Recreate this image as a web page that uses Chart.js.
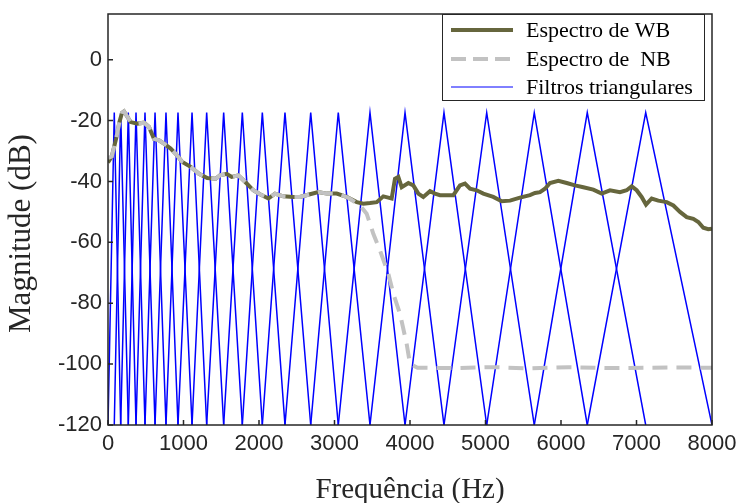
<!DOCTYPE html>
<html lang="pt">
<head>
    <meta charset="UTF-8">
    <title>Espectro e filtros triangulares</title>
    <style>
        body{
            margin: 0;
            background-color: #ffffff;
        }
    </style>
</head>
<body>
    <canvas id="grafico" width="741" height="503"></canvas>

    <script src="https://cdn.jsdelivr.net/npm/chart.js"></script>

    <script>
        // espectro de banda larga (WB)
        const wbFreq = [0, 50, 110, 150, 185, 212, 250, 300, 390, 477, 543, 609, 675, 742, 830, 897, 984, 1095, 1205, 1315,
            1426, 1483, 1572, 1638, 1726, 1815, 1925, 2013, 2124, 2212, 2322, 2455, 2543, 2675, 2786, 2896, 3029, 3161, 3294, 3382,
            3470, 3559, 3647, 3713, 3757, 3801, 3845, 3890, 3978, 4044, 4110, 4176, 4265, 4331, 4397, 4486, 4574, 4662, 4728, 4795,
            4883, 4971, 5103, 5214, 5325, 5457, 5589, 5656, 5722, 5788, 5854, 5965, 6075, 6185, 6296, 6428, 6539, 6649, 6781, 6870,
            6936, 7002, 7068, 7126, 7201, 7288, 7400, 7488, 7576, 7665, 7752, 7819, 7885, 7950, 8000]
        const wbDb = [-33.8, -31.8, -25.7, -20.6, -17.5, -17, -18.5, -20.5, -21, -20.7, -22.1, -26, -26.5, -27.6, -29.2, -30.9, -33.6, -35.2, -37.5, -38.9,
            -39.1, -38, -37.5, -38.5, -38, -40.1, -42.9, -44.2, -45.6, -44, -44.9, -45.1, -45.1, -44.2, -43.5, -44, -44, -45.1, -46.8, -47.3,
            -47.1, -46.8, -44.9, -45.3, -45.6, -39.1, -38.5, -41.9, -40.5, -41.3, -44, -45.1, -43.2, -44, -44.5, -44.5, -44.5, -41.3, -40.7, -42.4,
            -42.9, -44, -45.1, -46.5, -46.3, -45.3, -44.5, -43.8, -43.5, -42.4, -40.5, -39.8, -40.5, -41.3, -41.9, -42.7, -44, -42.9, -43.5, -42.9,
            -41.6, -42.9, -45.1, -47.6, -45.6, -46.3, -46.8, -47.9, -50, -51.7, -52.3, -53.3, -55.2, -55.7, -55.5]

        // espectro de banda estreita (NB)
        const nbFreq = [0, 50, 110, 150, 185, 212, 250, 300, 390, 477, 543, 609, 675, 742, 830, 897, 984, 1095, 1205, 1315,
            1426, 1483, 1572, 1638, 1726, 1815, 1925, 2013, 2124, 2212, 2322, 2455, 2543, 2675, 2786, 2896, 3029, 3161, 3205, 3338,
            3426, 3514, 3603, 3713, 3779, 3868, 3956, 4000, 4100, 4600, 5100, 5600, 6100, 6600, 7100, 7600, 8000]
        const nbDb = [-32.3, -31.8, -25.7, -20.6, -17.5, -17, -18.5, -20.5, -21, -20.7, -22.1, -26, -26.5, -27.6, -29.2, -30.9, -33.6, -35.2, -37.5, -38.9,
            -39.1, -38, -37.5, -38.5, -38, -40.1, -42.9, -44.2, -45.6, -44, -44.9, -45.1, -45.1, -44.2, -43.5, -44, -44, -45.1, -45.7, -47.9,
            -50.6, -57.2, -62.7, -70.3, -76.9, -83.5, -93.4, -99.9, -101.2, -101.3, -101, -101.4, -101, -101.3, -101.2, -101.1, -101.2]

        // bordas dos filtros triangulares (Hz)
        const filterEdges = [0, 83, 168, 269, 371, 490, 623, 768, 927, 1113, 1307, 1532, 1779, 2044, 2344, 2685, 3050, 3470, 3934,
            4450, 5016, 5646, 6348, 7122, 8000]
        const filterTop = -17.4
        const filterBottom = -120

        const xTicks = [0, 1000, 2000, 3000, 4000, 5000, 6000, 7000, 8000]
        const yTicks = [-120, -100, -80, -60, -40, -20, 0]
        const legendLabels = ['Espectro de WB', 'Espectro de  NB', 'Filtros triangulares']
        const yTitle = 'Magnitude (dB)'

        const corWB = '#66663d'
        const corNB = '#c2c2c2'
        const corFiltro = '#0000ff'
        const corTexto = '#262626'

        const toPoints = (fs, ds) => fs.map((f, i) => ({x: f, y: ds[i]}))

        const filtros = []
        for (let k = 1; k < filterEdges.length - 1; k++) {
            filtros.push({
                label: 'filtro ' + k,
                data: [
                    {x: filterEdges[k - 1], y: filterBottom},
                    {x: filterEdges[k], y: filterTop},
                    {x: filterEdges[k + 1], y: filterBottom}
                ],
                borderColor: corFiltro,
                borderWidth: 1.5,
                pointRadius: 0,
                tension: 0,
                order: 3
            })
        }

        // moldura, marcas internas, titulo do eixo y e legenda
        const moldura = {
            id: 'moldura',
            afterDatasetsDraw(chart) {
                const {ctx, chartArea: a, scales: {x, y}} = chart
                ctx.save()
                ctx.strokeStyle = corTexto
                ctx.lineWidth = 1.5
                ctx.strokeRect(a.left, a.top, a.right - a.left, a.bottom - a.top)
                ctx.beginPath()
                xTicks.forEach(v => {
                    const px = x.getPixelForValue(v)
                    ctx.moveTo(px, a.bottom)
                    ctx.lineTo(px, a.bottom - 5)
                })
                yTicks.forEach(v => {
                    const py = y.getPixelForValue(v)
                    ctx.moveTo(a.left, py)
                    ctx.lineTo(a.left + 5, py)
                })
                ctx.stroke()

                // titulo do eixo y
                ctx.save()
                ctx.translate(22, (a.top + a.bottom) / 2 + 14)
                ctx.rotate(-Math.PI / 2)
                ctx.fillStyle = corTexto
                ctx.font = '31px "Liberation Serif"'
                ctx.textAlign = 'center'
                ctx.textBaseline = 'middle'
                ctx.fillText(yTitle, 0, 0)
                ctx.restore()

                // legenda
                const bx = 442, by = a.top, bw = 262, bh = 86
                ctx.fillStyle = '#ffffff'
                ctx.fillRect(bx, by, bw, bh)
                ctx.lineWidth = 1
                ctx.strokeRect(bx + 0.5, by + 0.5, bw, bh)
                const rows = [by + 16, by + 45, by + 73]
                const estilos = [
                    {color: corWB, width: 4, dash: []},
                    {color: corNB, width: 4, dash: [15, 7]},
                    {color: corFiltro, width: 1, dash: []}
                ]
                rows.forEach((ry, i) => {
                    ctx.beginPath()
                    ctx.strokeStyle = estilos[i].color
                    ctx.lineWidth = estilos[i].width
                    ctx.setLineDash(estilos[i].dash)
                    ctx.moveTo(bx + 9, ry)
                    ctx.lineTo(bx + 71, ry)
                    ctx.stroke()
                    ctx.setLineDash([])
                    ctx.fillStyle = '#000000'
                    ctx.font = '22px "Liberation Serif"'
                    ctx.textBaseline = 'middle'
                    ctx.textAlign = 'left'
                    ctx.fillText(legendLabels[i], bx + 84, ry + 1)
                })
                ctx.restore()
            }
        }

        const contexto = document.querySelector('#grafico')
        const grafico = new Chart(contexto, {
            type: 'line',
            data: {
                datasets: [
                    {
                        label: legendLabels[1],
                        data: toPoints(nbFreq, nbDb),
                        borderColor: corNB,
                        borderWidth: 4,
                        borderDash: [15, 9],
                        pointRadius: 0,
                        order: 1
                    },
                    {
                        label: legendLabels[0],
                        data: toPoints(wbFreq, wbDb),
                        borderColor: corWB,
                        borderWidth: 4,
                        pointRadius: 0,
                        order: 2
                    },
                    ...filtros
                ]
            },
            options: {
                responsive: false,
                animation: false,
                layout: {padding: {top: 14, right: 29, left: 0, bottom: 0}},
                plugins: {
                    legend: {display: false},
                    tooltip: {enabled: false}
                },
                scales: {
                    x: {
                        type: 'linear',
                        min: 0,
                        max: 8000,
                        afterFit: s => {
                            s.height = 78
                            s.paddingLeft = 0
                            s.paddingRight = 0
                        },
                        afterBuildTicks: s => { s.ticks = xTicks.map(v => ({value: v})) },
                        grid: {display: false, drawTicks: false},
                        border: {display: false},
                        ticks: {
                            font: {family: 'Liberation Sans', size: 22},
                            color: corTexto,
                            padding: 6,
                            maxRotation: 0,
                            autoSkip: false,
                            callback: v => String(v)
                        },
                        title: {
                            display: true,
                            text: 'Frequência (Hz)',
                            font: {family: 'Liberation Serif', size: 29, lineHeight: 0.9},
                            color: corTexto,
                            padding: {top: 0, bottom: 0}
                        }
                    },
                    y: {
                        type: 'linear',
                        min: -120,
                        max: 15,
                        afterFit: s => {
                            s.width = 108
                            s.paddingTop = 0
                            s.paddingBottom = 0
                        },
                        afterBuildTicks: s => { s.ticks = yTicks.map(v => ({value: v})) },
                        grid: {display: false, drawTicks: false},
                        border: {display: false},
                        ticks: {
                            font: {family: 'Liberation Sans', size: 22},
                            color: corTexto,
                            padding: 6
                        },
                        title: {display: false}
                    }
                }
            },
            plugins: [moldura]
        })
    </script>
</body>
</html>
